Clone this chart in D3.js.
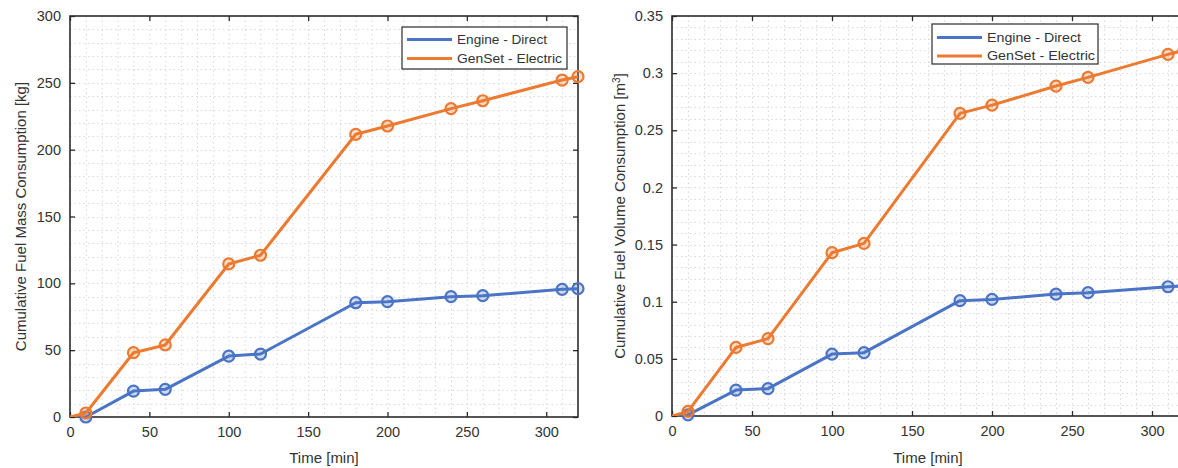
<!DOCTYPE html>
<html>
<head>
<meta charset="utf-8">
<script src="https://cdn.jsdelivr.net/npm/d3@7"></script>
<style>
  html, body { margin: 0; padding: 0; background: #ffffff; }
  svg { display: block; font-family: "Liberation Sans", Arial, sans-serif; }
</style>
</head>
<body>
<svg id="chart" width="1178" height="468"></svg>
<script>
// Elapsed time of each measurement [min]
const timeMin = [0, 10, 40, 60, 100, 120, 180, 200, 240, 260, 310, 320];

// Cumulative fuel mass [kg]
const massEngineDirect = [0, 0, 19.4, 20.7, 45.6, 47.1, 85.5, 86.3, 90.0, 90.8, 95.5, 96.0];
const massGenSetElectric = [0, 3, 48.1, 53.9, 114.5, 121.0, 211.5, 217.7, 230.7, 236.6, 252.1, 254.6];

// Cumulative fuel volume [m3]
const volEngineDirect = [0, 0.001, 0.0227, 0.0239, 0.0542, 0.0554, 0.1009, 0.1020, 0.1067, 0.1079, 0.1131, 0.1137];
const volGenSetElectric = [0, 0.004, 0.0600, 0.0677, 0.1429, 0.1510, 0.2648, 0.2720, 0.2887, 0.2963, 0.3164, 0.3200];

const seriesNames = ["Engine - Direct", "GenSet - Electric"];
const seriesColors = ["#4a74c6", "#ec7a30"];

const xTicks = [0, 50, 100, 150, 200, 250, 300];
const massTicks = [0, 50, 100, 150, 200, 250, 300];
const volTicks = [0, 0.05, 0.1, 0.15, 0.2, 0.25, 0.3, 0.35];

const svg = d3.select("#chart");
const axisColor = "#2b2b2b";
const textColor = "#333333";

function drawPanel(cfg, idx) {
  const x = d3.scaleLinear().domain([0, 320]).range([cfg.left, cfg.right]);
  const y = d3.scaleLinear().domain(cfg.yDomain).range([cfg.bottom, cfg.top]);
  const g = svg.append("g");

  const clipId = "clip" + idx;
  svg.append("clipPath").attr("id", clipId)
    .append("rect")
    .attr("x", cfg.left).attr("y", cfg.top)
    .attr("width", cfg.right - cfg.left).attr("height", cfg.bottom - cfg.top);

  // dotted grid, major and minor
  const xGrid = d3.range(10, 320, 10);
  const yGrid = d3.range(cfg.yDomain[0] + cfg.yMinor, cfg.yDomain[1] - cfg.yMinor / 2, cfg.yMinor);
  const grid = g.append("g")
    .attr("stroke", "#d9d9d9").attr("stroke-width", 1)
    .attr("stroke-dasharray", "1.5,3");
  grid.selectAll(".gx").data(xGrid).join("line")
    .attr("x1", d => x(d) + 0.5).attr("x2", d => x(d) + 0.5)
    .attr("y1", cfg.top).attr("y2", cfg.bottom);
  grid.selectAll(".gy").data(yGrid).join("line")
    .attr("y1", d => Math.round(y(d)) + 0.5).attr("y2", d => Math.round(y(d)) + 0.5)
    .attr("x1", cfg.left).attr("x2", cfg.right);

  // box axes with inward ticks on all sides
  const tickLen = 5;
  const axB = d3.axisBottom(x).tickValues(xTicks).tickSizeInner(-tickLen).tickSizeOuter(0).tickPadding(10);
  const axT = d3.axisTop(x).tickValues(xTicks).tickSizeInner(-tickLen).tickSizeOuter(0).tickFormat("");
  const axL = d3.axisLeft(y).tickValues(cfg.yTicks).tickSizeInner(-tickLen).tickSizeOuter(0).tickPadding(9)
    .tickFormat(cfg.yFormat);
  const axR = d3.axisRight(y).tickValues(cfg.yTicks).tickSizeInner(-tickLen).tickSizeOuter(0).tickFormat("");

  const styleAxis = sel => {
    sel.select(".domain").remove();
    sel.selectAll("line").attr("stroke", axisColor).attr("stroke-width", 1.3);
    sel.selectAll("text").attr("fill", textColor).style("font-size", "14.5px")
      .style("font-family", "'Liberation Sans', Arial, sans-serif");
  };
  g.append("g").attr("transform", `translate(0,${cfg.bottom})`).call(axB).call(styleAxis);
  g.append("g").attr("transform", `translate(0,${cfg.top})`).call(axT).call(styleAxis);
  g.append("g").attr("transform", `translate(${cfg.left},0)`).call(axL).call(styleAxis);
  g.append("g").attr("transform", `translate(${cfg.right},0)`).call(axR).call(styleAxis);

  g.append("rect")
    .attr("x", cfg.left).attr("y", cfg.top)
    .attr("width", cfg.right - cfg.left).attr("height", cfg.bottom - cfg.top)
    .attr("fill", "none").attr("stroke", axisColor).attr("stroke-width", 1.6);

  // data lines and circle markers
  const line = d3.line().x(d => x(d[0])).y(d => y(d[1]));
  cfg.series.forEach((vals, i) => {
    const pts = timeMin.map((t, k) => [t, vals[k]]);
    g.append("path").datum(pts)
      .attr("clip-path", `url(#${clipId})`)
      .attr("fill", "none").attr("stroke", seriesColors[i])
      .attr("stroke-width", 3).attr("stroke-linejoin", "round")
      .attr("d", line);
    g.selectAll(".m" + i).data(pts.slice(1)).join("circle")
      .attr("cx", d => x(d[0])).attr("cy", d => y(d[1]))
      .attr("r", 5.5)
      .attr("fill", seriesColors[i]).attr("fill-opacity", 0.25)
      .attr("stroke", seriesColors[i]).attr("stroke-width", 2.2);
  });

  // axis titles
  g.append("text")
    .attr("x", (cfg.left + cfg.right) / 2)
    .attr("y", 463)
    .attr("text-anchor", "middle").attr("fill", textColor)
    .style("font-size", "15px")
    .text("Time [min]");

  const yl = g.append("text")
    .attr("transform", `translate(${cfg.yLabelX},${(cfg.top + cfg.bottom) / 2}) rotate(-90)`)
    .attr("text-anchor", "middle").attr("dy", "0.35em").attr("fill", textColor)
    .style("font-size", "15px");
  yl.append("tspan").text(cfg.yLabel);
  if (cfg.yLabelSup) {
    yl.append("tspan").attr("baseline-shift", "super").style("font-size", "10px").text(cfg.yLabelSup);
    yl.append("tspan").text("]");
  }

  // legend
  const lg = g.append("g").attr("transform", `translate(${cfg.legend.x},${cfg.legend.y})`);
  lg.append("rect")
    .attr("width", cfg.legend.w).attr("height", cfg.legend.h)
    .attr("fill", "#ffffff").attr("stroke", axisColor).attr("stroke-width", 1.2);
  seriesNames.forEach((name, i) => {
    const ry = cfg.legend.row0 + i * cfg.legend.rowGap;
    lg.append("line")
      .attr("x1", 5).attr("x2", 50).attr("y1", ry).attr("y2", ry)
      .attr("stroke", seriesColors[i]).attr("stroke-width", 3);
    lg.append("text")
      .attr("x", 55).attr("y", ry).attr("dy", "0.35em")
      .attr("fill", textColor).style("font-size", cfg.legend.font)
      .attr("textLength", cfg.legend.textLen[i])
      .attr("lengthAdjust", "spacingAndGlyphs")
      .text(name);
  });
}

const fmtVol = d => d === 0 ? "0" : String(+d.toFixed(2));

drawPanel({
  left: 70, right: 578, top: 16, bottom: 417,
  yDomain: [0, 300], yMinor: 10, yTicks: massTicks, yFormat: d => String(d),
  series: [massEngineDirect, massGenSetElectric],
  yLabel: "Cumulative Fuel Mass Consumption [kg]", yLabelX: 21,
  legend: { x: 402, y: 27, w: 165, h: 42, row0: 12.5, rowGap: 19, font: "12px", textLen: [90, 105] }
}, 0);

drawPanel({
  left: 672, right: 1184, top: 16, bottom: 416,
  yDomain: [0, 0.35], yMinor: 0.01, yTicks: volTicks, yFormat: fmtVol,
  series: [volEngineDirect, volGenSetElectric],
  yLabel: "Cumulative Fuel Volume Consumption [m", yLabelSup: "3", yLabelX: 620,
  legend: { x: 932, y: 24, w: 166, h: 40, row0: 13.5, rowGap: 18.5, font: "12.5px", textLen: [94, 108] }
}, 1);
</script>
</body>
</html>
